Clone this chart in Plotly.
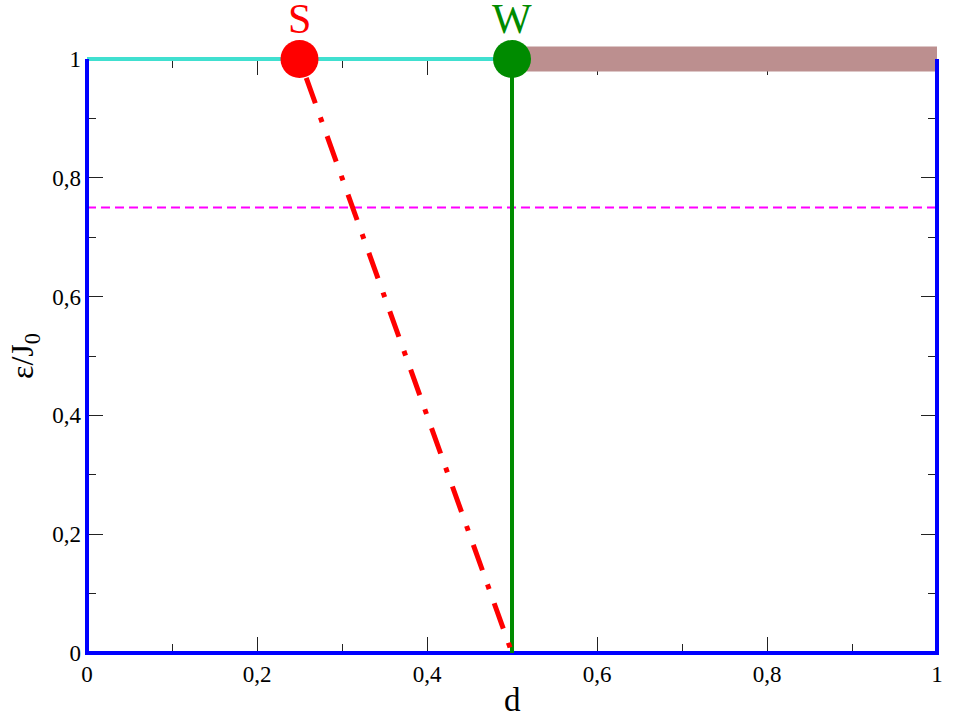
import plotly.graph_objects as go

# ---- data ----
frame_x = [0, 0, 1, 1]
frame_y = [1, 0, 0, 1]
cyan_x = [0, 0.5]
cyan_y = [1, 1]
brown_x = [0.5, 1.0]
brown_y = [1, 1]
magenta_x = [0, 1]
magenta_y = [0.75, 0.75]
red_x = [0.25, 0.5]
red_y = [1, 0]
green_x = [0.5, 0.5]
green_y = [0, 1]
point_x = [0.25, 0.5]
point_y = [1, 1]
point_labels = ["S", "W"]
point_colors = ["#ff0000", "#008b00"]
tick_vals = [0, 0.2, 0.4, 0.6, 0.8, 1]
tick_text = ["0", "0,2", "0,4", "0,6", "0,8", "1"]
minor_vals = [0.1, 0.3, 0.5, 0.7, 0.9]

# ---- geometry (pixels) ----
W, H = 954, 718
PL, PR, PT, PB = 87, 937, 59, 653
DL, DR, DT, DB = 60, 950, 20, 675

def fx(px):
    return px / W

def fy(py):
    return 1 - py / H

xr = [(DL - PL) / (PR - PL), (DR - PL) / (PR - PL)]
yr = [(PB - DB) / (PB - PT), (PB - DT) / (PB - PT)]

SERIF = "Liberation Serif, Times New Roman, serif"

fig = go.Figure()

# invisible trace so the frame axes are drawn
fig.add_trace(go.Scatter(x=[0, 1], y=[0, 1], mode="markers", marker=dict(opacity=0),
                         hoverinfo="skip", showlegend=False, xaxis="x", yaxis="y"))

def line(x, y, color, width, dash="solid"):
    fig.add_trace(go.Scatter(x=x, y=y, mode="lines", line=dict(color=color, width=width, dash=dash),
                             hoverinfo="skip", showlegend=False, xaxis="x2", yaxis="y2"))

line(magenta_x, magenta_y, "#ff00ff", 2, "9px,5px")
line(cyan_x, cyan_y, "#40e0d0", 4)
line(brown_x, brown_y, "#bc8f8f", 25)
line(frame_x, frame_y, "#0000ff", 4)
line(green_x, green_y, "#008b00", 4)
line(red_x, red_y, "#ff0000", 5, "5px,15px,27px,15px")

fig.add_trace(go.Scatter(x=point_x, y=point_y, mode="markers",
                         marker=dict(size=38, color=point_colors, line=dict(width=0)),
                         cliponaxis=False, hoverinfo="skip", showlegend=False,
                         xaxis="x2", yaxis="y2"))

point_annotations = [
    dict(text=lab, x=px_, y=py_, xref="x2", yref="y2", showarrow=False,
         xanchor="center", yanchor="middle", yshift=40,
         font=dict(family=SERIF, size=42, color=col))
    for lab, px_, py_, col in zip(point_labels, point_x, point_y, point_colors)
]

common_ticks = dict(ticks="inside", ticklen=16, tickwidth=1, tickcolor="#222",
                    mirror="ticks", showline=False, showgrid=False, zeroline=False,
                    tickvals=tick_vals, ticktext=tick_text,
                    tickfont=dict(family=SERIF, size=23, color="black"),
                    ticklabelstandoff=5,
                    minor=dict(tickvals=minor_vals, ticks="inside", ticklen=9,
                               tickwidth=1, tickcolor="#222", showgrid=False),
                    range=[0, 1], automargin=False, fixedrange=True)

fig.update_layout(
    template="none",
    width=W, height=H,
    margin=dict(l=0, r=0, t=0, b=0),
    paper_bgcolor="white",
    plot_bgcolor="rgba(0,0,0,0)",
    showlegend=False,
    xaxis=dict(domain=[fx(PL), fx(PR)], anchor="y", **common_ticks),
    yaxis=dict(domain=[fy(PB), fy(PT)], anchor="x", **common_ticks),
    xaxis2=dict(domain=[fx(DL), fx(DR)], range=xr, anchor="y2", visible=False, fixedrange=True),
    yaxis2=dict(domain=[fy(DB), fy(DT)], range=yr, anchor="x2", visible=False, fixedrange=True),
    annotations=point_annotations + [
        dict(text="d", x=fx(512), y=fy(700), xref="paper", yref="paper",
             showarrow=False, font=dict(family=SERIF, size=33, color="black"),
             xanchor="center", yanchor="middle"),
        dict(text="ε/J<sub>0</sub>", x=fx(24), y=fy(356), xref="paper", yref="paper",
             showarrow=False, textangle=-90, font=dict(family=SERIF, size=32, color="black"),
             xanchor="center", yanchor="middle"),
    ],
)

fig.write_html("out.html", config={"displayModeBar": False},
               post_script="document.body.style.margin='0';document.body.style.overflow='hidden';")
